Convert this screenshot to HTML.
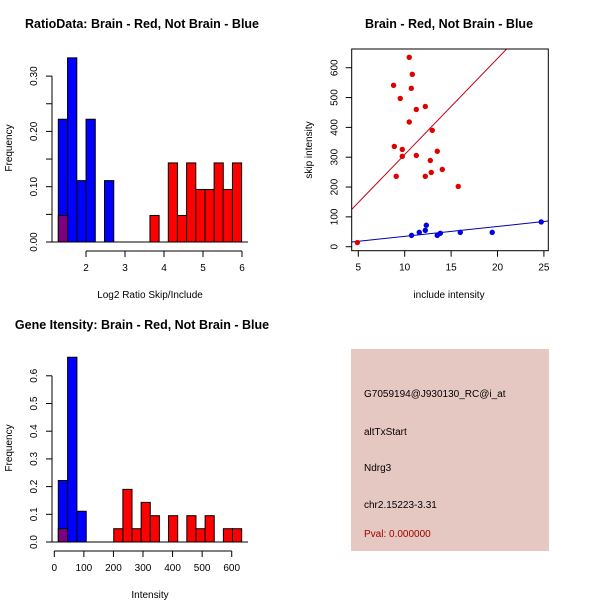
<!DOCTYPE html>
<html><head><meta charset="utf-8"><style>
html,body{margin:0;padding:0;background:#fff}
svg{display:block}
text{font-family:"Liberation Sans",sans-serif;font-size:10px;fill:#000}
.t{font-weight:bold;font-size:12.5px}
</style></head><body>
<svg id="s" width="600" height="600" viewBox="0 0 600 600" xmlns="http://www.w3.org/2000/svg">
<rect width="600" height="600" fill="#fff"/>
<g id="p1"></g>
<g id="p2"></g>
<g id="p3"></g>
<g>
<rect x="351" y="349" width="198" height="202" fill="#e6c8c2"/>
<text x="364" y="397">G7059194@J930130_RC@i_at</text>
<text x="364" y="435">altTxStart</text>
<text x="364" y="471">Ndrg3</text>
<text x="364" y="508">chr2.15223-3.31</text>
<text x="364" y="537" style="fill:#a00000">Pval: 0.000000</text>
</g>
</svg>
<script>
// Ratio histogram data
const ratioBlue = [0.222,0.333,0.111,0.222,0,0.111];
const ratioRed = [0.048,0,0.143,0.048,0.143,0.095,0.095,0.143,0.095,0.143];
const ratioBlueStart = 1.29, ratioBlueWidth = 0.237;
const ratioRedStart = 3.64, ratioRedWidth = 0.235;
const ratioOverlap = [0.048];
const ratioXTicks = [2,3,4,5,6];
const ratioYTicks = [0,0.05,0.10,0.15,0.20,0.25,0.30];
const ratioYLabels = ["0.00","","0.10","","0.20","","0.30"];
// Scatter data
const redX = [4.9,10.49,10.82,8.8,10.71,9.52,11.25,12.22,10.49,12.97,8.88,9.74,13.51,9.74,11.25,12.76,14.05,9.09,12.22,12.86,15.77];
const redY = [14,635,578,541,531,497,460,470,418,390,336,326,320,303,306,289,259,236,236,249,202];
const blueX = [10.74,11.57,12.22,12.33,13.51,13.84,15.99,19.43,24.71];
const blueY = [38,48,55,72,38,45,48,48,83];
const redFit = [-13,32.2];
const blueFit = [1.4,3.32];
const scXTicks = [5,10,15,20,25];
const scYTicks = [0,100,200,300,400,500,600];
// Gene intensity histogram
const geneBlue = [0.222,0.667,0.111];
const geneRed = [0.048,0.190,0.048,0.143,0.095,0,0.095,0,0.095,0.048,0.095,0,0.048,0.048];
const geneBlueStart = 13.5, geneBlueWidth = 31.5;
const geneRedStart = 201, geneRedWidth = 30.9;
const geneOverlap = [0.048];
const geneXTicks = [0,100,200,300,400,500,600];
const geneYTicks = [0,0.1,0.2,0.3,0.4,0.5,0.6];
const geneYLabels = ["0.0","0.1","0.2","0.3","0.4","0.5","0.6"];

const NS="http://www.w3.org/2000/svg";
function el(parent,tag,attrs,txt){const e=document.createElementNS(NS,tag);for(const k in attrs)e.setAttribute(k,attrs[k]);if(txt!==undefined)e.textContent=txt;parent.appendChild(e);return e;}

function hist(g,o){
  const sx=v=>o.x0+(v-o.xv0)*o.xs, sy=v=>o.y0-v*o.ys;
  const bars=(arr,start,w,fill,nm)=>arr.forEach((h,i)=>{if(h<=0)return;
    const r=el(g,'rect',{x:sx(start+i*w),y:sy(h),width:w*o.xs,height:h*o.ys,fill:fill,stroke:'#000','stroke-width':1});
    
    });
  bars(o.blue,o.bs,o.bw,'#0000ff','blue-bar');
  bars(o.red,o.rs,o.rw,'#ff0000','red-bar');
  bars(o.ov,o.bs,o.bw,'#7f007f','overlap-bar');
  const bl=el(g,'line',{x1:52,x2:248,y1:o.y0,y2:o.y0,stroke:'#000'});
  
  const xa=el(g,'g',{});
  const ay=o.y0+9;
  el(xa,'line',{x1:sx(o.xt[0]),x2:sx(o.xt[o.xt.length-1]),y1:ay,y2:ay,stroke:'#000'});
  o.xt.forEach(t=>{el(xa,'line',{x1:sx(t),x2:sx(t),y1:ay,y2:ay+6,stroke:'#000'});el(xa,'text',{x:sx(t),y:ay+20,'text-anchor':'middle'},String(t));});
  const ya=el(g,'g',{});
  el(ya,'line',{x1:52,x2:52,y1:sy(o.yt[0]),y2:sy(o.yt[o.yt.length-1]),stroke:'#000'});
  o.yt.forEach((t,i)=>{el(ya,'line',{x1:46,x2:52,y1:sy(t),y2:sy(t),stroke:'#000'});
    const l=o.yl[i];if(l)el(ya,'text',{x:0,y:0,transform:`translate(37,${sy(t)}) rotate(-90)`,'text-anchor':'middle'},l);});
  const t=el(g,'text',{x:142,y:o.ty,'text-anchor':'middle',class:'t'},o.title);
  const xl=el(g,'text',{x:150,y:o.y0+56,'text-anchor':'middle'},o.xlab);
  const yl=el(g,'text',{x:0,y:0,transform:`translate(12,${o.ylc}) rotate(-90)`,'text-anchor':'middle'},'Frequency');
}
hist(document.getElementById('p1'),{x0:86,xv0:2,xs:39,y0:242,ys:553,blue:ratioBlue,red:ratioRed,ov:ratioOverlap,bs:ratioBlueStart,bw:ratioBlueWidth,rs:ratioRedStart,rw:ratioRedWidth,xt:ratioXTicks,yt:ratioYTicks,yl:ratioYLabels,title:'RatioData: Brain - Red, Not Brain - Blue',ty:28,xlab:'Log2 Ratio Skip/Include',ylc:148});
hist(document.getElementById('p3'),{x0:54.3,xv0:0,xs:0.2957,y0:542,ys:277,blue:geneBlue,red:geneRed,ov:geneOverlap,bs:geneBlueStart,bw:geneBlueWidth,rs:geneRedStart,rw:geneRedWidth,xt:geneXTicks,yt:geneYTicks,yl:geneYLabels,title:'Gene Itensity: Brain - Red, Not Brain - Blue',ty:329,xlab:'Intensity',ylc:448});

(function(){
  const g=document.getElementById('p2');
  const L=351.7,R=548.3,T=49,B=250.7;
  const sx=v=>358.3+(v-5)*9.28, sy=v=>246.7-v*0.2983;
  const cp=el(g,'clipPath',{id:'cp'});el(cp,'rect',{x:L,y:T,width:R-L,height:B-T});
  const fx0=(L-358.3)/9.28+5, fx1=(R-358.3)/9.28+5;
  [[redFit,'#c00018','red-fit-line'],[blueFit,'#0000b0','blue-fit-line']].forEach(([f,c,nm])=>{
    const l=el(g,'line',{x1:sx(fx0),y1:sy(f[0]+f[1]*fx0),x2:sx(fx1),y2:sy(f[0]+f[1]*fx1),stroke:c,'stroke-width':1,'clip-path':'url(#cp)'});
    });
  redX.forEach((x,i)=>{const c=el(g,'circle',{cx:sx(x),cy:sy(redY[i]),r:2.7,fill:'#e00000'});
    });
  blueX.forEach((x,i)=>{const c=el(g,'circle',{cx:sx(x),cy:sy(blueY[i]),r:2.7,fill:'#0000e0'});
    });
  const bx=el(g,'rect',{x:L,y:T,width:R-L,height:B-T,fill:'none',stroke:'#000'});
  
  const xa=el(g,'g',{});
  scXTicks.forEach(t=>{el(xa,'line',{x1:sx(t),x2:sx(t),y1:B,y2:B+6,stroke:'#000'});el(xa,'text',{x:sx(t),y:B+20,'text-anchor':'middle'},String(t));});
  const ya=el(g,'g',{});
  scYTicks.forEach(t=>{el(ya,'line',{x1:L-6,x2:L,y1:sy(t),y2:sy(t),stroke:'#000'});el(ya,'text',{x:0,y:0,transform:`translate(${L-14},${sy(t)}) rotate(-90)`,'text-anchor':'middle'},String(t));});
  const t=el(g,'text',{x:449,y:28,'text-anchor':'middle',class:'t'},'Brain - Red, Not Brain - Blue');
  const xl=el(g,'text',{x:449,y:298,'text-anchor':'middle'},'include intensity');
  const yl=el(g,'text',{x:0,y:0,transform:'translate(312,150) rotate(-90)','text-anchor':'middle'},'skip intensity');
})();
</script>
</body></html>
